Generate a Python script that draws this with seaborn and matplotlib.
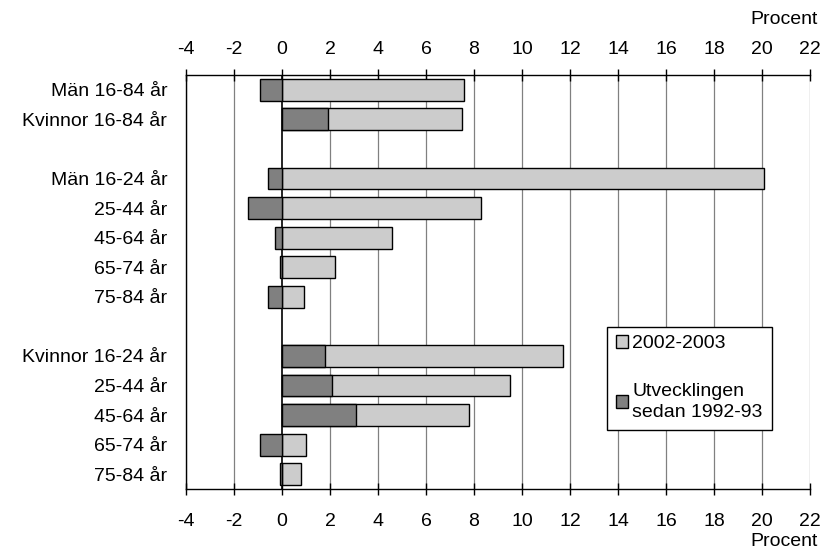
import pandas as pd
import seaborn as sns
import matplotlib.pyplot as plt
from matplotlib.patches import Patch

labels = ['Män 16-84 år', 'Kvinnor 16-84 år',
          'Män 16-24 år', '25-44 år', '45-64 år', '65-74 år', '75-84 år',
          'Kvinnor 16-24 år', '25-44 år', '45-64 år', '65-74 år', '75-84 år']
rows = [0, 1, 3, 4, 5, 6, 7, 9, 10, 11, 12, 13]
level_2002 = [7.6, 7.5, 20.1, 8.3, 4.6, 2.2, 0.9, 11.7, 9.5, 7.8, 1.0, 0.8]
change_since_1992 = [-0.9, 1.9, -0.6, -1.4, -0.3, -0.1, -0.6, 1.8, 2.1, 3.1, -0.9, -0.1]
xticks = list(range(-4, 23, 2))

df = pd.DataFrame({'row': rows, 'level': level_2002, 'change': change_since_1992})

sns.set_style('white')
plt.rcParams['font.family'] = ['Liberation Sans', 'DejaVu Sans']
plt.rcParams['text.color'] = 'black'
plt.rcParams['xtick.color'] = 'black'
plt.rcParams['ytick.color'] = 'black'
fs = 14

fig = plt.figure(figsize=(8.24, 5.51), dpi=100)
ax = fig.add_axes([0.2257, 0.1125, 0.7573, 0.7514])

for x in xticks:
    ax.axvline(x, color='black' if x == 0 else '#808080', lw=1.2 if x == 0 else 0.9, zorder=0)

sns.barplot(data=df, x='level', y='row', orient='h', native_scale=True,
            color='#cccccc', saturation=1, width=0.74, edgecolor='black', linewidth=1, ax=ax)
sns.barplot(data=df, x='change', y='row', orient='h', native_scale=True,
            color='#808080', saturation=1, width=0.74, edgecolor='black', linewidth=1, ax=ax)

ax.set_xlim(-4, 22)
ax.set_ylim(13.5, -0.5)
ax.set_yticks(rows)
ax.set_yticklabels(labels)
ax.set_xticks(xticks)
ax.set_xticklabels([str(t) for t in xticks])
ax.set_xlabel('')
ax.set_ylabel('')
ax.tick_params(axis='x', bottom=True, top=False, direction='inout', length=8, width=1,
               labelsize=fs, pad=13)
ax.tick_params(axis='y', left=False, labelsize=fs, pad=10)
for side in ['left', 'bottom']:
    ax.spines[side].set_color('black')
    ax.spines[side].set_linewidth(1)
ax.spines['right'].set_visible(False)
ax.spines['top'].set_visible(False)

# top axis with its own label padding
top = ax.secondary_xaxis('top')
top.set_xticks(xticks)
top.set_xticklabels([str(t) for t in xticks])
top.tick_params(axis='x', top=True, direction='inout', length=8, width=1, labelsize=fs, pad=8)
top.spines['top'].set_color('black')
top.spines['top'].set_linewidth(1)

fig.text(0.993, 0.965, 'Procent', ha='right', va='center', fontsize=fs)
fig.text(0.993, 0.017, 'Procent', ha='right', va='center', fontsize=fs)

handles = [Patch(facecolor='#cccccc', edgecolor='black'),
           Patch(facecolor='#808080', edgecolor='black')]
leg = ax.legend(handles, ['2002-2003', 'Utvecklingen\nsedan 1992-93'],
                loc='upper left', bbox_to_anchor=(0.675, 0.392), fontsize=fs,
                frameon=True, fancybox=False, edgecolor='black', framealpha=1,
                handlelength=0.6, handleheight=0.6, handletextpad=0.25,
                labelspacing=1.55, borderpad=0.45, borderaxespad=0)
leg.get_frame().set_linewidth(1)
for t in leg.get_texts():
    t.set_multialignment('left')
    t.set_linespacing(1.35)

fig.savefig('out.png', dpi=100)
